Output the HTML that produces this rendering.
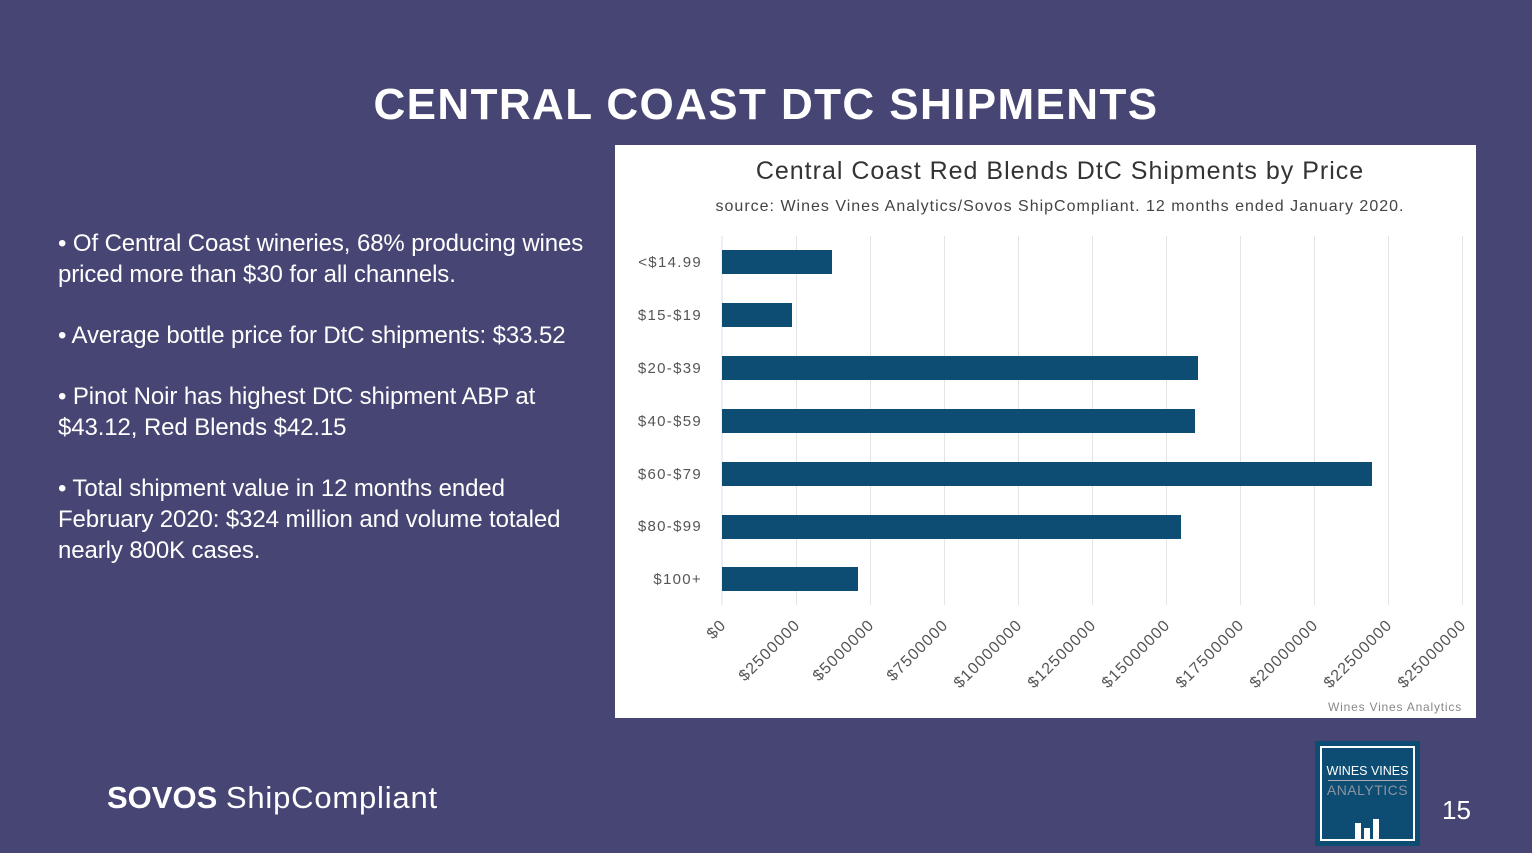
<!DOCTYPE html>
<html><head><meta charset="utf-8"><style>
body{margin:0;width:1532px;height:853px;background:#474573;overflow:hidden;position:relative;font-family:"Liberation Sans",sans-serif;color:#fff}
.t{position:absolute}
.b{font-size:24px;line-height:31px;white-space:nowrap;letter-spacing:-0.1px}
</style></head><body>
<div class="t" style="left:0;width:1532px;top:80px;text-align:center;font-size:44px;font-weight:bold;letter-spacing:1.4px">CENTRAL COAST DTC SHIPMENTS</div>
<div class="t b" style="left:58px;top:228px">• Of Central Coast wineries, 68% producing wines<br>priced more than $30 for all channels.</div>
<div class="t b" style="left:58px;top:320px">• Average bottle price for DtC shipments: $33.52</div>
<div class="t b" style="left:58px;top:381px">• Pinot Noir has highest DtC shipment ABP at<br>$43.12, Red Blends $42.15</div>
<div class="t b" style="left:58px;top:473px">• Total shipment value in 12 months ended<br>February 2020: $324 million and volume totaled<br>nearly 800K cases.</div>
<div class="t" style="left:107px;top:780px;font-size:31px;white-space:nowrap"><b style="letter-spacing:0px">SOVOS</b> <span style="letter-spacing:0.8px">ShipCompliant</span></div>
<div class="t" style="left:1442px;top:795px;font-size:26px">15</div>
<div class="t" style="left:1315px;top:741px;width:105px;height:105px;background:#0d4d73">
 <div style="position:absolute;left:5px;top:5px;right:5px;bottom:5px;border:2px solid #fff"></div>
 <div style="position:absolute;left:0;width:105px;top:23px;text-align:center;font-size:12.5px;color:#fff">WINES VINES</div>
 <div style="position:absolute;left:13px;width:79px;top:39px;border-top:1px solid #aab"></div>
 <div style="position:absolute;left:0;width:105px;top:41px;text-align:center;font-size:14px;color:#8a94a0;letter-spacing:0.5px">ANALYTICS</div>
 <div style="position:absolute;left:40px;top:82px;width:6px;height:17px;background:#fff"></div>
 <div style="position:absolute;left:49px;top:87px;width:6px;height:12px;background:#fff"></div>
 <div style="position:absolute;left:58px;top:78px;width:6px;height:21px;background:#fff"></div>
</div>
<svg class="t" style="left:0;top:0" width="1532" height="853">
<rect x="615" y="145" width="861" height="573" fill="#fff"/>
<text x="1060" y="179" text-anchor="middle" font-size="25" fill="#333" font-family="Liberation Sans" letter-spacing="1">Central Coast Red Blends DtC Shipments by Price</text>
<text x="1060" y="211" text-anchor="middle" font-size="16" fill="#444" font-family="Liberation Sans" letter-spacing="1">source: Wines Vines Analytics/Sovos ShipCompliant. 12 months ended January 2020.</text>
<g stroke="#e4e4e4" stroke-width="1">
<line x1="796.5" y1="236" x2="796.5" y2="605"/><line x1="870.5" y1="236" x2="870.5" y2="605"/><line x1="944.5" y1="236" x2="944.5" y2="605"/><line x1="1018.5" y1="236" x2="1018.5" y2="605"/><line x1="1092.5" y1="236" x2="1092.5" y2="605"/><line x1="1166.5" y1="236" x2="1166.5" y2="605"/><line x1="1240.5" y1="236" x2="1240.5" y2="605"/><line x1="1314.5" y1="236" x2="1314.5" y2="605"/><line x1="1388.5" y1="236" x2="1388.5" y2="605"/><line x1="1462.5" y1="236" x2="1462.5" y2="605"/>
</g>
<line x1="722" y1="236" x2="722" y2="605" stroke="#dde" stroke-width="1"/>
<g fill="#0d4d73">
<rect x="722" y="250" width="110" height="24"/>
<rect x="722" y="303" width="70" height="24"/>
<rect x="722" y="356" width="476" height="24"/>
<rect x="722" y="409" width="473" height="24"/>
<rect x="722" y="462" width="650" height="24"/>
<rect x="722" y="515" width="459" height="24"/>
<rect x="722" y="567" width="136" height="24"/>
</g>
<g font-size="15" fill="#555" font-family="Liberation Sans" text-anchor="end" letter-spacing="1.3">
<text x="702" y="267">&lt;$14.99</text><text x="702" y="320">$15-$19</text><text x="702" y="373">$20-$39</text><text x="702" y="426">$40-$59</text><text x="702" y="479">$60-$79</text><text x="702" y="531">$80-$99</text><text x="702" y="584">$100+</text>
</g>
<g font-size="16" fill="#555" font-family="Liberation Sans" text-anchor="end" letter-spacing="1">
<text transform="translate(727,626) rotate(-45)">$0</text>
<text transform="translate(801,626) rotate(-45)">$2500000</text>
<text transform="translate(875,626) rotate(-45)">$5000000</text>
<text transform="translate(949,626) rotate(-45)">$7500000</text>
<text transform="translate(1023,626) rotate(-45)">$10000000</text>
<text transform="translate(1097,626) rotate(-45)">$12500000</text>
<text transform="translate(1171,626) rotate(-45)">$15000000</text>
<text transform="translate(1245,626) rotate(-45)">$17500000</text>
<text transform="translate(1319,626) rotate(-45)">$20000000</text>
<text transform="translate(1393,626) rotate(-45)">$22500000</text>
<text transform="translate(1467,626) rotate(-45)">$25000000</text>
</g>
<text x="1462" y="711" text-anchor="end" font-size="12" fill="#888" font-family="Liberation Sans" letter-spacing="0.8">Wines Vines Analytics</text>
</svg>
</body></html>
